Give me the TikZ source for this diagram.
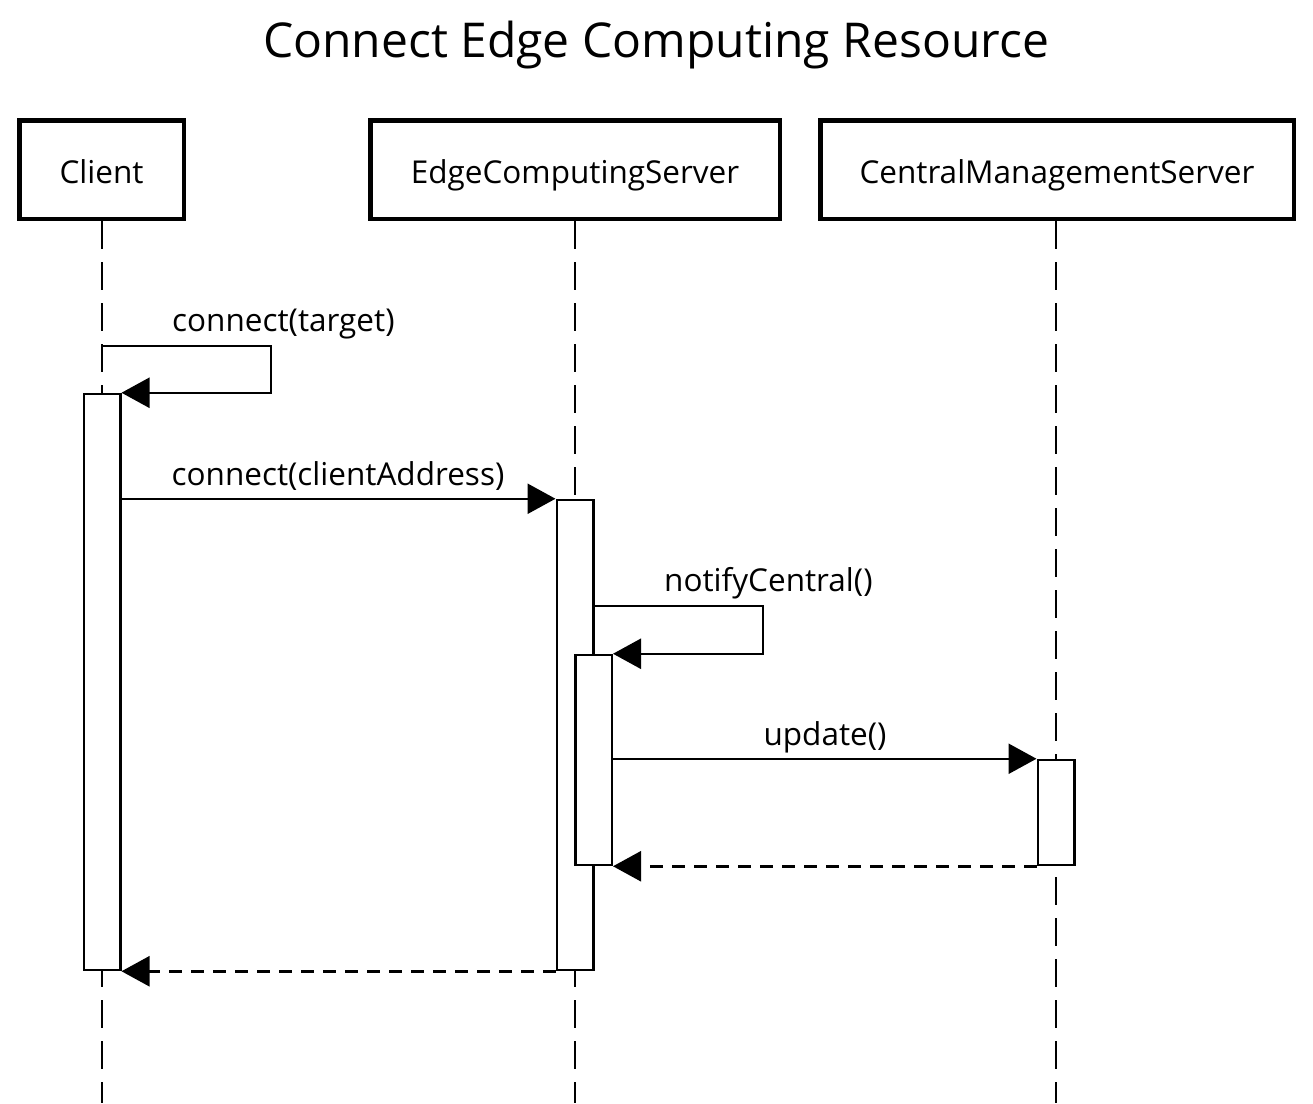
\documentclass[tikz,border=0pt]{standalone}
\usepackage{fontspec}
\setmainfont{Open Sans}
\usetikzlibrary{arrows.meta}
\begin{document}
\begin{tikzpicture}[x=1pt,y=-1pt,
  part/.style={draw, line width=4.5pt, minimum height=98.5pt, inner sep=0pt, text height=28pt, text depth=0pt, font=\fontsize{31.5}{38}\selectfont},
  act/.style={draw, fill=white, line width=2.5pt, minimum width=36.5pt, inner sep=0pt},
  life/.style={line width=2.5pt, dash pattern=on 28pt off 13pt},
  msg/.style={line width=2.5pt, -{Triangle[length=28pt,width=30pt]}},
  ret/.style={msg, dash pattern=on 13pt off 9pt},
  lbl/.style={font=\fontsize{31.5}{38}\selectfont, inner sep=0pt}]
\path[use as bounding box, fill=white] (0,0) rectangle (1313,1103);

\node[font=\fontsize{48}{58}\selectfont] (title) at (656,45) {Connect Edge Computing Resource};

\node[part, minimum width=164.5pt] (client) at (101.5,169.5) {Client};
\node[part, minimum width=409.5pt] (edge) at (575,169.5) {EdgeComputingServer};
\node[part, minimum width=473.5pt] (central) at (1057,169.5) {CentralManagementServer};

\coordinate (clientEnd) at (102,1103);
\coordinate (edgeEnd) at (575,1103);
\coordinate (centralEnd) at (1056,1103);
\draw[life] (client.south -| clientEnd) -- (clientEnd);
\draw[life] (edge.south -| edgeEnd) -- (edgeEnd);
\draw[life] (central.south -| centralEnd) -- (centralEnd);

\node[act, minimum height=576pt] (a1) at (102,682) {};
\node[act, minimum height=470pt] (e1) at (575,735) {};
\node[act, minimum height=210pt] (e2) at (593.5,760) {};
\node[act, minimum height=105pt] (c1) at (1056,812.5) {};

% self message on Client
\coordinate (s1) at (102,346);
\coordinate (s1r) at (271,346);
\draw[msg] (s1) -- (s1r) -- (s1r |- a1.north) -- (a1.north east);
\node[lbl, anchor=base west] (l1) at (172,331) {connect(target)};

% Client -> Edge
\draw[msg] (a1.east |- e1.north) -- (e1.north west);
\node[lbl, anchor=base] (l2) at (338,485) {connect(clientAddress)};

% self message on Edge
\coordinate (s2) at (594,606);
\coordinate (s2r) at (763,606);
\draw[msg] (e1.east |- s2) -- (s2r) -- (s2r |- e2.north) -- (e2.north east);
\node[lbl, anchor=base west] (l3) at (664,591) {notifyCentral()};

% Edge -> Central
\draw[msg] (e2.east |- c1.north) -- (c1.north west);
\node[lbl, anchor=base] (l4) at (825,745) {update()};

% returns
\draw[ret] (c1.south west) -- (e2.south east);
\draw[ret] (e1.south west) -- (a1.south east);
\end{tikzpicture}
\end{document}
